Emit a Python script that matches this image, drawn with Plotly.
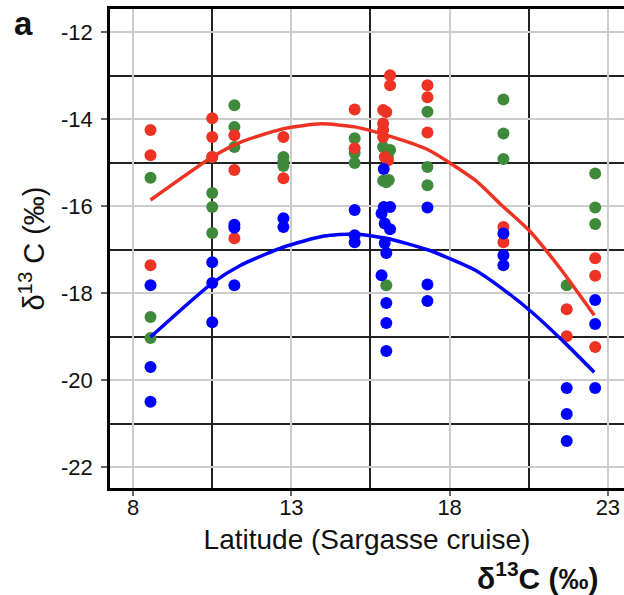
import plotly.graph_objects as go

# ---- data ----
red_lat = [8.55, 8.55, 8.55,
           10.5, 10.5, 10.5,
           11.2, 11.2, 11.2,
           12.75, 12.75,
           15.0, 15.0,
           16.12, 16.12, 15.9, 16.0, 15.9, 15.9, 15.9, 15.95, 16.05,
           17.3, 17.3, 17.3,
           19.7, 19.7,
           21.7, 21.7,
           22.6, 22.6, 22.6]
red_val = [-14.25, -14.83, -17.36,
           -13.98, -14.41, -14.87,
           -14.37, -15.17, -16.74,
           -14.41, -15.36,
           -13.78, -14.67,
           -12.99, -13.22, -13.79, -13.84, -14.10, -14.25, -14.41, -14.87, -14.95,
           -13.22, -13.50, -14.31,
           -16.48, -16.83,
           -18.37, -18.99,
           -17.20, -17.60, -19.24]

green_lat = [8.55, 8.55, 8.55,
             10.5, 10.5, 10.5, 10.5,
             11.2, 11.2, 11.2,
             12.75, 12.75, 12.75,
             15.0, 15.0, 15.0,
             15.9, 16.12, 16.05, 15.9, 16.08, 16.0, 16.0,
             17.3, 17.3, 17.3,
             19.7, 19.7, 19.7,
             21.7,
             22.6, 22.6, 22.6]
green_val = [-15.35, -18.55, -19.03,
             -14.87, -15.70, -16.02, -16.62,
             -13.68, -14.18, -14.64,
             -14.87, -14.98, -15.08,
             -14.44, -14.78, -15.01,
             -14.64, -14.71, -14.87, -15.42, -15.40, -15.45, -17.82,
             -13.83, -15.10, -15.52,
             -13.55, -14.33, -14.92,
             -17.82,
             -15.25, -16.03, -16.41]

blue_lat = [8.55, 8.55, 8.55,
            10.5, 10.5, 10.5,
            11.2, 11.2, 11.2,
            12.75, 12.75,
            15.0, 15.0, 15.0,
            15.92, 15.92, 16.12, 15.85, 15.95, 16.12, 15.95, 16.0, 15.85, 16.0, 16.0, 16.0,
            17.3, 17.3, 17.3,
            19.7, 19.7, 19.7,
            21.7, 21.7, 21.7,
            22.6, 22.6, 22.6]
blue_val = [-17.82, -19.70, -20.50,
            -17.29, -17.77, -18.67,
            -16.43, -16.50, -17.82,
            -16.28, -16.48,
            -16.09, -16.67, -16.83,
            -15.15, -16.02, -16.02, -16.17, -16.40, -16.53, -16.85, -17.08, -17.59, -18.23, -18.69, -19.33,
            -16.03, -17.80, -18.18,
            -16.63, -17.13, -17.36,
            -20.18, -20.78, -21.40,
            -18.16, -18.71, -20.18]

red_fit_lat = [8.55, 10.5, 11.4, 12.76, 13.94, 15.0, 16.0, 17.33, 18.8, 19.6, 20.5, 21.46, 22.57]
red_fit_val = [-15.86, -14.87, -14.53, -14.22, -14.11, -14.18, -14.37, -14.71, -15.40, -15.95, -16.55, -17.40, -18.51]

blue_fit_lat = [8.55, 10.5, 11.4, 12.76, 14.03, 15.0, 16.0, 17.33, 18.8, 19.65, 20.6, 21.65, 22.57]
blue_fit_val = [-19.01, -17.77, -17.36, -16.94, -16.69, -16.64, -16.74, -17.01, -17.47, -17.89, -18.44, -19.15, -19.82]

x_ticks = [8, 13, 18, 23]
y_ticks = [-22, -20, -18, -16, -14, -12]

RED = "#ee3324"
GREEN = "#3f8a3a"
BLUE = "#0000ff"
FONT = "Liberation Sans, Arial, sans-serif"

fig = go.Figure()
mk = dict(size=12, line=dict(width=0))
fig.add_trace(go.Scatter(x=green_lat, y=green_val, mode="markers",
                         marker=dict(color=GREEN, **mk), showlegend=False))
fig.add_trace(go.Scatter(x=red_lat, y=red_val, mode="markers",
                         marker=dict(color=RED, **mk), showlegend=False))
fig.add_trace(go.Scatter(x=blue_lat, y=blue_val, mode="markers",
                         marker=dict(color=BLUE, **mk), showlegend=False))
fig.add_trace(go.Scatter(x=red_fit_lat, y=red_fit_val, mode="lines",
                         line=dict(color=RED, width=3.5, shape="spline", smoothing=0.6), showlegend=False))
fig.add_trace(go.Scatter(x=blue_fit_lat, y=blue_fit_val, mode="lines",
                         line=dict(color=BLUE, width=3.5, shape="spline", smoothing=0.6), showlegend=False))

W, H = 624, 595
L, R, T, B = 110, 0, 9, 595 - 488
pw, ph = W - L - R, H - T - B


def px(xp):
    return (xp - L) / pw


def py(yp):
    return (H - B - yp) / ph


fig.update_layout(
    width=W, height=H,
    margin=dict(l=L, r=R, t=T, b=B),
    paper_bgcolor="white", plot_bgcolor="white",
    font=dict(family=FONT, color="#111"),
    xaxis=dict(range=[7.27, 23.51], tickvals=x_ticks, ticktext=[str(v) for v in x_ticks],
               showgrid=True, gridcolor="#cccccc", gridwidth=1.5,
               minor=dict(tick0=10.5, dtick=5, showgrid=True, gridcolor="#222222", gridwidth=1.5),
               showline=True, linecolor="black", linewidth=2.5, mirror=True,
               ticks="outside", ticklen=5, tickcolor="#666", tickwidth=1.5,
               tickfont=dict(size=22, family=FONT, color="#111"),
               ticklabelstandoff=-7, zeroline=False, automargin=False,
               title=dict(text="Latitude (Sargasse cruise)", font=dict(size=28, family=FONT, color="#111"),
                          standoff=11)),
    yaxis=dict(range=[-22.48, -11.47], tickvals=y_ticks, ticktext=[str(v) for v in y_ticks],
               showgrid=True, gridcolor="#cccccc", gridwidth=1.5,
               minor=dict(tick0=-13, dtick=2, showgrid=True, gridcolor="#222222", gridwidth=1.5),
               showline=True, linecolor="black", linewidth=2.5,
               ticks="outside", ticklen=6, tickcolor="#666", tickwidth=1.5,
               tickfont=dict(size=22, family=FONT, color="#111"),
               ticklabelstandoff=4, zeroline=False, automargin=False,
               title=dict(text="δ<sup>13</sup> C (‰)", font=dict(size=29, family=FONT, color="#111"),
                          standoff=8)),
    annotations=[
        dict(text="<b>a</b>", x=px(23), y=py(24), xref="paper", yref="paper",
             xanchor="center", yanchor="middle", showarrow=False,
             font=dict(size=33, family=FONT, color="#111")),
        dict(text="<b>δ<sup>13</sup>C (‰)</b>", x=px(538), y=py(576), xref="paper", yref="paper",
             xanchor="center", yanchor="middle", showarrow=False,
             font=dict(size=30, family=FONT, color="#111")),
    ],
)

fig.write_html("out.html", config={"displayModeBar": False},
               post_script="document.body.style.margin='0';")
